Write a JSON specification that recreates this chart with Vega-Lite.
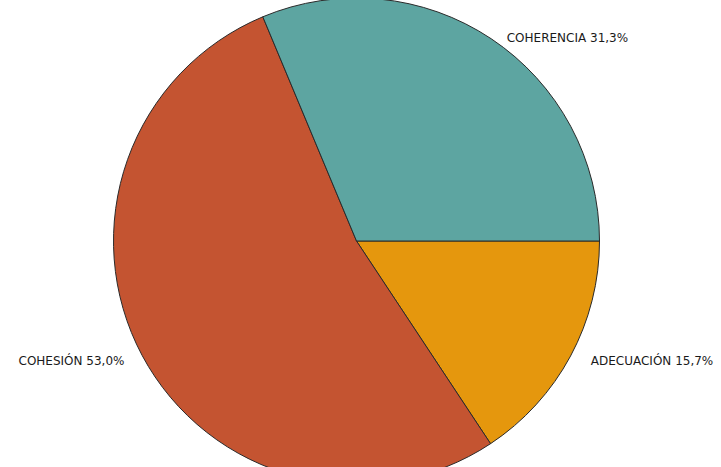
{
  "$schema": "https://vega.github.io/schema/vega-lite/v6.json",
  "autosize": {"type": "fit", "contains": "padding"},
  "width": 721,
  "height": 467,
  "padding": {"top": 15, "left": 0, "right": 7, "bottom": 0},
  "background": "white",
  "config": {"view": {"stroke": null}},
  "data": {
    "values": [
      {"cat": "ADECUACIÓN", "pct": 15.7, "orden": 1, "label": "ADECUACIÓN  15,7%"},
      {"cat": "COHESIÓN", "pct": 53.0, "orden": 2, "label": "COHESIÓN  53,0%"},
      {"cat": "COHERENCIA", "pct": 31.3, "orden": 3, "label": "COHERENCIA  31,3%"}
    ]
  },
  "encoding": {
    "theta": {"field": "pct", "type": "quantitative", "stack": true, "scale": {"range": [1.5708, 7.854]}},
    "order": {"field": "orden", "type": "quantitative"}
  },
  "layer": [
    {
      "mark": {"type": "arc", "stroke": "#2a2a2a", "strokeWidth": 1},
      "encoding": {
        "radius": {"value": 243},
        "color": {
          "field": "cat",
          "type": "nominal",
          "scale": {"domain": ["ADECUACIÓN", "COHESIÓN", "COHERENCIA"], "range": ["#E5970D", "#C45431", "#5DA5A1"]},
          "legend": null
        }
      }
    },
    {
      "mark": {"type": "text", "align": "left", "baseline": "middle", "font": "DejaVu Sans", "fontSize": 12, "color": "#1a1a1a", "dx": 15},
      "encoding": {
        "radius": {"value": 244},
        "text": {"condition": {"test": "datum.cat === 'COHERENCIA'", "field": "label"}, "value": ""}
      }
    },
    {
      "mark": {"type": "text", "align": "right", "baseline": "middle", "font": "DejaVu Sans", "fontSize": 12, "color": "#1a1a1a", "dy": -4},
      "encoding": {
        "radius": {"value": 263},
        "text": {"condition": {"test": "datum.cat === 'COHESIÓN'", "field": "label"}, "value": ""}
      }
    },
    {
      "mark": {"type": "text", "align": "left", "baseline": "middle", "font": "DejaVu Sans", "fontSize": 12, "color": "#1a1a1a", "dy": -6},
      "encoding": {
        "radius": {"value": 266},
        "text": {"condition": {"test": "datum.cat === 'ADECUACIÓN'", "field": "label"}, "value": ""}
      }
    }
  ]
}
